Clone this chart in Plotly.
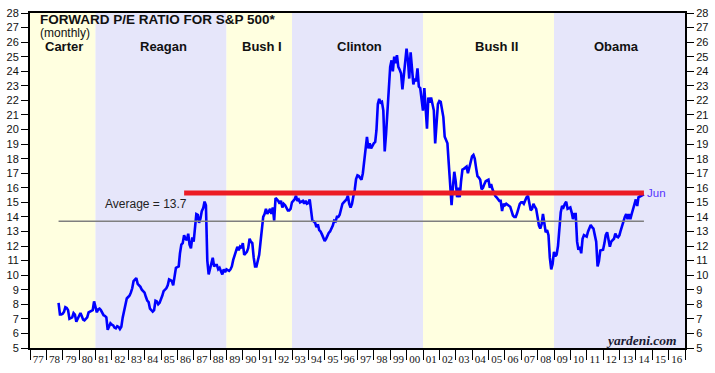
import pandas as pd
import plotly.graph_objects as go

# ---------------- data ----------------
start_month = "1978-09"   # first monthly observation

pe_1978_1982 = [
    8.1, 7.3, 7.3, 7.35,
    7.5, 7.8, 7.75, 7.6, 7.0, 7.05, 7.1, 7.4, 7.3, 6.8, 7.0, 7.2,
    7.4, 7.2, 6.95, 6.9, 7.0, 7.1, 7.45, 7.5, 7.55, 7.6, 8.2, 7.75,
    7.45, 7.65, 7.7, 7.6, 7.45, 7.25, 7.2, 7.1, 6.25, 6.45, 6.7, 6.6,
    6.55, 6.4, 6.35, 6.5, 6.45, 6.3, 6.45, 7.1, 7.6, 8.0, 8.4, 8.5,
]
pe_1983_1987 = [
    8.6, 8.8, 9.1, 9.6, 9.75, 9.8, 9.4, 9.3, 9.2, 9.0, 8.9, 8.8,
    8.5, 8.25, 8.15, 7.7, 7.6, 7.5, 7.6, 8.25, 8.2, 8.0, 8.1, 8.3,
    8.6, 8.9, 9.0, 9.1, 9.3, 9.7, 9.65, 9.6, 9.3, 10.05, 10.5, 10.55,
    10.6, 11.5, 12.1, 12.2, 12.75, 12.5, 12.4, 12.85, 12.1, 11.85, 12.6, 12.3,
    13.4, 14.2, 14.15, 13.6, 13.9, 14.4, 14.6, 15.05, 14.8, 11.0, 10.05, 10.5,
]
pe_1988_1992 = [
    10.8, 11.2, 10.6, 10.7, 10.7, 10.4, 10.5, 10.3, 10.05, 10.4, 10.2, 10.4,
    10.35, 10.3, 10.4, 10.6, 11.05, 11.4, 11.6, 11.95, 11.7, 11.95, 11.85, 12.2,
    11.4, 11.5, 11.6, 11.85, 12.5, 12.3, 12.2, 11.2, 10.6, 10.6, 11.0, 11.4,
    12.3, 13.2, 14.0, 14.2, 14.55, 14.2, 14.4, 14.55, 14.2, 14.65, 13.75, 15.3,
    15.2, 15.1, 14.9, 15.1, 14.65, 14.9, 14.8, 14.55, 14.45, 14.45, 14.55, 15.0,
]
pe_1993_1997 = [
    15.1, 15.2, 15.45, 15.1, 15.2, 15.0, 15.05, 15.1, 14.9, 15.1, 14.9, 14.95,
    15.2, 14.55, 13.75, 13.7, 13.6, 13.3, 13.5, 13.1, 13.0, 12.8, 12.5, 12.35,
    12.5, 12.75, 12.9, 13.0, 13.2, 13.4, 13.75, 13.7, 14.0, 14.0, 14.15, 14.45,
    14.9, 15.0, 15.1, 15.2, 15.45, 14.9, 14.65, 14.9, 15.4, 15.85, 16.6, 16.85,
    16.8, 16.7, 16.55, 17.0, 17.9, 18.7, 19.5, 18.7, 19.05, 18.7, 18.9, 19.05,
]
pe_1998_2002 = [
    19.15, 19.95, 21.75, 22.1, 21.85, 21.9, 21.3, 18.5, 19.7, 21.3, 22.85, 24.3,
    24.75, 24.0, 25.0, 24.55, 25.1, 24.3, 24.1, 23.85, 22.75, 23.75, 24.55, 25.55,
    24.75, 23.5, 25.3, 24.2, 23.1, 23.5, 23.3, 24.2, 22.95, 22.85, 21.85, 21.3,
    22.85, 21.2, 20.05, 22.2, 21.85, 22.2, 21.7, 21.3, 19.05, 20.85, 21.75, 21.95,
    21.9, 21.4, 20.85, 19.5, 19.3, 19.05, 17.6, 16.45, 14.8, 16.1, 17.1, 16.45,
]
pe_2003_2007 = [
    15.35, 16.0, 15.35, 16.45, 17.25, 17.3, 17.35, 17.45, 17.0, 17.45, 17.8, 18.15,
    18.25, 18.0, 17.35, 16.8, 16.7, 16.55, 15.9, 16.0, 16.25, 16.45, 16.5, 16.55,
    16.0, 16.25, 15.9, 15.6, 15.45, 15.35, 15.2, 15.1, 15.1, 14.4, 14.9, 14.8,
    14.9, 14.85, 14.8, 14.7, 14.4, 14.1, 14.0, 14.0, 14.25, 14.65, 14.9, 15.0,
    15.0, 14.9, 15.2, 15.35, 15.45, 15.0, 14.45, 14.55, 14.9, 14.7, 14.55, 14.0,
]
pe_2008_2014 = [
    13.4, 13.2, 13.5, 14.2, 13.65, 12.95, 13.1, 12.75, 11.2, 10.4, 10.75, 11.6,
    11.3, 11.4, 12.0, 13.2, 14.3, 14.75, 14.65, 14.9, 15.05, 14.55, 14.6, 14.65,
    14.3, 13.85, 14.2, 14.2, 12.3, 11.75, 11.95, 11.5, 12.5, 12.75, 12.7, 12.65,
    13.0, 13.2, 13.45, 13.3, 13.2, 12.75, 12.3, 10.6, 10.95, 11.7, 11.75, 11.75,
    12.2, 12.75, 12.95, 12.5, 11.95, 12.3, 12.4, 12.5, 12.85, 12.65, 12.6, 12.75,
    13.1, 13.4, 13.75, 14.0, 14.2, 13.85, 14.2, 13.85, 14.2, 14.55, 15.0, 15.2,
    14.75, 15.35, 15.4, 15.45, 15.5, 15.55,
]

average_value = 13.7
current_level = 15.65
current_line_start = "1986-06-01"
last_label = "Jun"

term_names = ["Carter", "Reagan", "Bush I", "Clinton", "Bush II", "Obama"]
term_start = ["1977-01-01", "1981-01-01", "1989-01-01", "1993-01-01", "2001-01-01", "2009-01-01"]
term_end = ["1981-01-01", "1989-01-01", "1993-01-01", "2001-01-01", "2009-01-01", "2017-01-01"]
term_label_x = ["1979-02-01", "1985-03-01", "1991-03-01", "1997-02-15", "2005-07-01", "2012-10-15"]
term_colors = ["#ffffe0", "#e6e6fa"]

x_range = ["1977-01-01", "2017-01-01"]
y_range = [5, 28]

# ---------------- build ----------------
pe_values = (pe_1978_1982 + pe_1983_1987 + pe_1988_1992 + pe_1993_1997
             + pe_1998_2002 + pe_2003_2007 + pe_2008_2014)
dates = (pd.period_range(start_month, periods=len(pe_values), freq="M")
         .to_timestamp(how="end").normalize())

fig = go.Figure()

# average line (on the overlay axes, which also carry the extra tick marks)
fig.add_trace(go.Scatter(
    x=[dates[0], dates[-1]], y=[average_value, average_value],
    mode="lines", line=dict(color="#7f7f7f", width=1.5),
    xaxis="x2", yaxis="y2", hoverinfo="skip", showlegend=False))

fig.add_trace(go.Scatter(
    x=dates, y=pe_values, mode="lines",
    line=dict(color="#0000ff", width=2.6), showlegend=False))

fig.add_trace(go.Scatter(
    x=[pd.Timestamp(current_line_start), dates[-1]],
    y=[current_level, current_level],
    mode="lines", line=dict(color="#ec1c24", width=5), showlegend=False))

shapes = []
for i, (s, e) in enumerate(zip(term_start, term_end)):
    shapes.append(dict(type="rect", xref="x", yref="paper", x0=s, x1=e, y0=0, y1=1,
                       fillcolor=term_colors[i % 2], line=dict(width=0), layer="below"))

annotations = []
for name, lx in zip(term_names, term_label_x):
    annotations.append(dict(x=lx, y=0.90, xref="x", yref="paper", yanchor="middle",
                            text="<b>" + name + "</b>", showarrow=False,
                            font=dict(family="Liberation Sans, Arial", size=13, color="#111111")))

annotations += [
    dict(x=0.0117, y=0.982, xref="paper", yref="paper", xanchor="left", yanchor="middle",
         text="<b>FORWARD P/E RATIO FOR S&P 500*</b>", showarrow=False,
         font=dict(family="Liberation Sans, Arial", size=13.5, color="#111111")),
    dict(x=0.0117, y=0.941, xref="paper", yref="paper", xanchor="left", yanchor="middle",
         text="(monthly)", showarrow=False,
         font=dict(family="Liberation Sans, Arial", size=12, color="#111111")),
    dict(x="1981-06-15", y=14.87, xref="x", yref="y", xanchor="left", yanchor="middle",
         text="Average = 13.7", showarrow=False,
         font=dict(family="Liberation Sans, Arial", size=12, color="#222222")),
    dict(x=dates[-1], y=current_level, xref="x", yref="y", xanchor="left", yanchor="middle",
         xshift=1, text=last_label, showarrow=False,
         font=dict(family="Liberation Sans, Arial", size=11.5, color="#5533ff")),
    dict(x=0.991, y=0.021, xref="paper", yref="paper", xanchor="right", yanchor="middle",
         text="<b><i>yardeni.com</i></b>", showarrow=False,
         font=dict(family="Liberation Serif, Times New Roman", size=13.5, color="#1a1a33")),
]

yaxis_common = dict(range=y_range, dtick=1, ticks="outside", ticklen=7, tickwidth=1,
                    tickcolor="#000", showline=True, linewidth=2, linecolor="#000",
                    showgrid=False, zeroline=False,
                    tickfont=dict(family="Liberation Sans, Arial", size=11, color="#111111"))

fig.update_layout(
    width=715, height=373,
    margin=dict(l=27, r=29, t=7, b=25),
    paper_bgcolor="white", plot_bgcolor="white",
    showlegend=False,
    shapes=shapes, annotations=annotations,
    xaxis=dict(type="date", range=x_range, dtick="M12", tick0="1977-01-01",
               tickformat="%y", ticklabelmode="period", ticks="",
               showline=True, linewidth=2, linecolor="#000", mirror=True,
               showgrid=False, zeroline=False,
               tickfont=dict(family="Liberation Serif, Times New Roman", size=11, color="#111111")),
    xaxis2=dict(type="date", matches="x", overlaying="x", anchor="y", side="bottom",
                dtick="M12", tick0="1977-01-01", ticks="outside", ticklen=11,
                tickwidth=1, tickcolor="#000", showticklabels=False,
                showgrid=False, zeroline=False, showline=False),
    yaxis=dict(**yaxis_common, side="left"),
    yaxis2=dict(**yaxis_common, side="right", overlaying="y", matches="y", anchor="x2"),
)

fig.write_html("out.html", config={"displayModeBar": False},
               post_script="document.body.style.margin='0';")
